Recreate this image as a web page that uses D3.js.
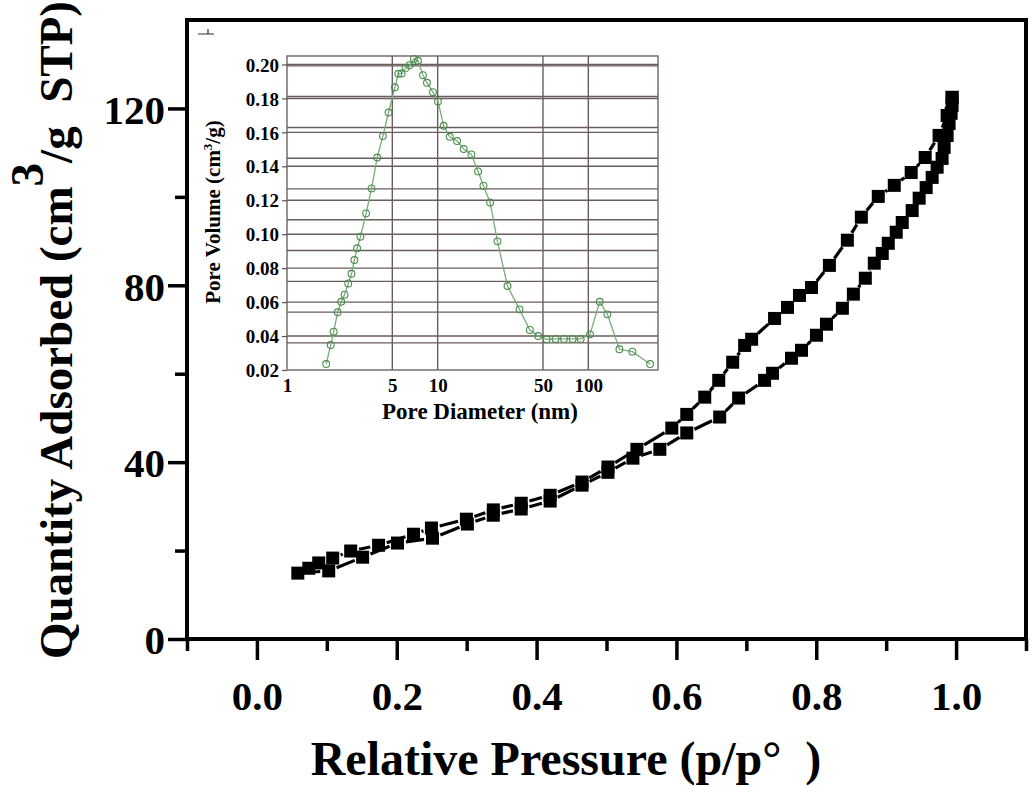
<!DOCTYPE html>
<html>
<head>
<meta charset="utf-8">
<script src="https://cdn.jsdelivr.net/npm/d3@7"></script>
<style>
html,body{margin:0;padding:0;background:#fff;}
svg{display:block;}
text{font-family:"Liberation Serif","Times New Roman",serif;font-weight:bold;fill:#000;}
</style>
</head>
<body>
<svg id="chart" width="1032" height="786"></svg>
<script>
// ---- Main isotherm data (relative pressure p/p0, quantity adsorbed cm3/g STP)
const adsP = [0.0585,0.1027,0.1512,0.2011,0.2511,0.301,0.3381,0.378,0.4194,0.465,0.5021,0.5378,0.5763,0.6148,0.6619,0.689,0.7261,0.7375,0.7646,0.7789,0.8003,0.8146,0.8374,0.8531,0.8702,0.883,0.8944,0.903,0.9144,0.923,0.9372,0.9472,0.9572,0.9658,0.9729,0.98,0.9829,0.9872,0.99,0.9929,0.9943,0.9943];
const adsQ = [14.9,15.4,18.5,21.7,22.8,26.0,28.0,29.4,31.2,34.8,37.7,40.9,42.9,46.6,50.2,54.5,58.5,60.1,63.5,65.3,68.7,71.2,74.8,78.0,81.6,85.0,87.2,89.5,92.0,94.2,96.9,99.7,102.1,104.4,106.7,108.7,111.2,113.9,116.6,118.9,120.7,122.5];
const desP = [0.9943,0.9872,0.9757,0.9558,0.9358,0.9116,0.8887,0.8645,0.8445,0.8188,0.7932,0.776,0.7589,0.7404,0.7076,0.6976,0.6805,0.6605,0.6405,0.6148,0.5934,0.5435,0.5021,0.465,0.4194,0.378,0.3381,0.2996,0.2496,0.224,0.174,0.1341,0.1084,0.0884,0.0742];
const desQ = [122.5,118.4,113.9,108.9,105.5,102.6,100.1,95.4,90.2,84.5,79.5,77.7,75.0,72.5,67.8,66.4,62.6,58.5,54.7,50.8,47.7,42.9,38.9,35.5,32.5,30.7,29.2,27.1,25.1,23.7,21.2,19.9,18.3,17.2,16.0];

const xMajorTicks = [0.0,0.2,0.4,0.6,0.8,1.0];
const xMinorTicks = [-0.1,0.1,0.3,0.5,0.7,0.9,1.1];
const yMajorTicks = [0,40,80,120];
const yMinorTicks = [20,60,100];

// ---- Inset pore size distribution
const poreDiameter = [1.82,1.95,2.04,2.17,2.29,2.41,2.55,2.68,2.80,2.92,3.07,3.35,3.64,3.97,4.33,4.72,5.20,5.48,5.76,6.12,6.51,6.96,7.40,7.99,8.49,9.31,10.05,10.96,12.02,13.45,14.89,16.75,18.55,20.13,22.29,24.94,29.07,34.93,40.92,46.5,52.8,60.6,68.9,78.7,88.9,102.6,119,133.8,160.8,196.2,257];
const poreVolume = [0.0235,0.0347,0.0426,0.054,0.0602,0.0644,0.071,0.0767,0.0848,0.0917,0.0985,0.1123,0.127,0.1452,0.1578,0.1717,0.1866,0.1945,0.1947,0.198,0.1996,0.2033,0.2022,0.1937,0.1892,0.1837,0.1782,0.1639,0.1574,0.1549,0.1502,0.147,0.137,0.1286,0.1187,0.0958,0.0695,0.0557,0.0436,0.040,0.0381,0.0383,0.0383,0.0383,0.0383,0.041,0.0602,0.0528,0.0322,0.0308,0.0235];
const insetXTicks = [1,5,10,50,100];
const insetXGrid = [5,10,50,100];
const insetYTicks = [0.02,0.04,0.06,0.08,0.10,0.12,0.14,0.16,0.18,0.20];
const insetYGridB = [0.1992,0.1811,0.1629,0.1448,0.1267,0.1085,0.0904,0.0722,0.0541,0.0360];

const svg = d3.select("#chart");
const FONT = "'Liberation Serif','Times New Roman',serif";

// ---------- Main chart ----------
const L=187, R=1026, T=20, B=639;
const x = d3.scaleLinear().domain([-0.1,1.1]).range([L,R]);
const y = d3.scaleLinear().domain([0,140]).range([B,T]);

svg.append("rect").attr("x",L).attr("y",T).attr("width",R-L).attr("height",B-T)
  .attr("fill","none").attr("stroke","#000").attr("stroke-width",4);

const gx = svg.append("g").attr("transform",`translate(0,${B})`)
  .call(d3.axisBottom(x).tickValues(xMajorTicks).tickSize(21).tickFormat(d3.format(".1f")));
gx.select(".domain").remove();
gx.selectAll(".tick line").attr("stroke","#000").attr("stroke-width",3.5);
gx.selectAll(".tick text").attr("y",71).attr("dy",0).attr("font-size",41)
  .style("font-family",FONT).style("font-weight","bold");
const gxm = svg.append("g").attr("transform",`translate(0,${B})`)
  .call(d3.axisBottom(x).tickValues(xMinorTicks).tickSize(12).tickFormat(""));
gxm.select(".domain").remove();
gxm.selectAll(".tick line").attr("stroke","#000").attr("stroke-width",3.5);

const gy = svg.append("g").attr("transform",`translate(${L},0)`)
  .call(d3.axisLeft(y).tickValues(yMajorTicks).tickSize(19).tickFormat(d3.format("d")));
gy.select(".domain").remove();
gy.selectAll(".tick line").attr("stroke","#000").attr("stroke-width",3.5);
gy.selectAll(".tick text").attr("x",-22).attr("dy","0.36em").attr("font-size",41)
  .style("font-family",FONT).style("font-weight","bold");
const gym = svg.append("g").attr("transform",`translate(${L},0)`)
  .call(d3.axisLeft(y).tickValues(yMinorTicks).tickSize(12).tickFormat(""));
gym.select(".domain").remove();
gym.selectAll(".tick line").attr("stroke","#000").attr("stroke-width",3.5);

svg.append("text").attr("x",566).attr("y",775).attr("text-anchor","middle")
  .attr("font-size",48).text("Relative Pressure (p/p\u00B0\u00A0\u00A0)");

const yt = svg.append("text").attr("transform","translate(72,330) rotate(-90)")
  .attr("text-anchor","middle").attr("font-size",47);
yt.append("tspan").text("Quantity Adsorbed (cm");
yt.append("tspan").attr("dy",-29).text("3");
yt.append("tspan").attr("dy",29).text("/g\u00A0\u00A0STP)");

// series: line segments with a small gap at each symbol, then square symbols
const S = 13, GAP = S/2 + 2;
function gappedSegments(series){
  const pts = series.map(d=>[x(d[0]), y(d[1])]);
  const segs = [];
  for(let i=0;i<pts.length-1;i++){
    const [x1,y1]=pts[i],[x2,y2]=pts[i+1];
    const dx=x2-x1, dy=y2-y1, len=Math.hypot(dx,dy);
    if(len>2*GAP){
      const ux=dx/len, uy=dy/len;
      segs.push([x1+ux*GAP,y1+uy*GAP,x2-ux*GAP,y2-uy*GAP]);
    }
  }
  return segs;
}
const ads = adsP.map((p,i)=>[p,adsQ[i]]);
const des = desP.map((p,i)=>[p,desQ[i]]);
[ads,des].forEach(series=>{
  svg.append("g").selectAll("line").data(gappedSegments(series)).join("line")
    .attr("x1",d=>d[0]).attr("y1",d=>d[1]).attr("x2",d=>d[2]).attr("y2",d=>d[3])
    .attr("stroke","#000").attr("stroke-width",3.2);
  svg.append("g").selectAll("rect").data(series).join("rect")
    .attr("x",d=>x(d[0])-S/2).attr("y",d=>y(d[1])-S/2)
    .attr("width",S).attr("height",S).attr("fill","#000");
});

svg.append("path").attr("d","M198,34H214M208,29V34").attr("stroke","#333").attr("stroke-width",1.2).attr("fill","none");

// ---------- Inset ----------
const iL=287, iR=658, iT=56, iB=370;
const xi = d3.scaleLog().domain([1,290]).range([iL,iR]);
const yi = d3.scaleLinear().domain([0.02,0.205]).range([iB,iT]);
const gridCol = "#6a5c5f";

const ig = svg.append("g");
ig.append("rect").attr("x",iL).attr("y",iT).attr("width",iR-iL).attr("height",iB-iT)
  .attr("fill","#fff").attr("stroke","#7a6d70").attr("stroke-width",1.5);

ig.append("g").selectAll("line").data(insetYTicks.filter(v=>v>0.02)).join("line")
  .attr("x1",iL).attr("x2",iR).attr("y1",d=>yi(d)).attr("y2",d=>yi(d))
  .attr("stroke",gridCol).attr("stroke-width",1.4);
ig.append("g").selectAll("line").data(insetYGridB).join("line")
  .attr("x1",iL).attr("x2",iR).attr("y1",d=>yi(d)).attr("y2",d=>yi(d))
  .attr("stroke",gridCol).attr("stroke-width",1.4);
ig.append("g").selectAll("line").data(insetXGrid).join("line")
  .attr("x1",d=>xi(d)).attr("x2",d=>xi(d)).attr("y1",iT).attr("y2",iB)
  .attr("stroke",gridCol).attr("stroke-width",1.4);

const gix = ig.append("g").attr("transform",`translate(0,${iB})`)
  .call(d3.axisBottom(xi).tickValues(insetXTicks).tickSize(0).tickFormat(d3.format("d")));
gix.select(".domain").remove();
gix.selectAll(".tick text").attr("y",22).attr("dy",0).attr("font-size",19)
  .style("font-family",FONT).style("font-weight","bold");

const giy = ig.append("g").attr("transform",`translate(${iL},0)`)
  .call(d3.axisLeft(yi).tickValues(insetYTicks).tickSize(5).tickFormat(d3.format(".2f")));
giy.select(".domain").remove();
giy.selectAll(".tick line").attr("stroke","#555").attr("stroke-width",1.2);
giy.selectAll(".tick text").attr("x",-8).attr("dy","0.35em").attr("font-size",19)
  .style("font-family",FONT).style("font-weight","bold");

ig.append("text").attr("x",480).attr("y",419).attr("text-anchor","middle")
  .attr("font-size",23).text("Pore Diameter (nm)");
const iyt = ig.append("text").attr("transform","translate(220,212) rotate(-90)")
  .attr("text-anchor","middle").attr("font-size",21);
iyt.append("tspan").text("Pore Volume (cm");
iyt.append("tspan").attr("font-size",13).attr("dy",-8).text("3");
iyt.append("tspan").attr("dy",8).text("/g)");

const psd = poreDiameter.map((d,i)=>[d,poreVolume[i]]);
ig.append("path").datum(psd)
  .attr("d",d3.line().x(d=>xi(d[0])).y(d=>yi(d[1])))
  .attr("fill","none").attr("stroke","#7aab7a").attr("stroke-width",1.3);
ig.append("g").selectAll("circle").data(psd).join("circle")
  .attr("cx",d=>xi(d[0])).attr("cy",d=>yi(d[1])).attr("r",3.4)
  .attr("fill","none").attr("stroke","#4a8c4a").attr("stroke-width",1.1);
</script>
</body>
</html>
